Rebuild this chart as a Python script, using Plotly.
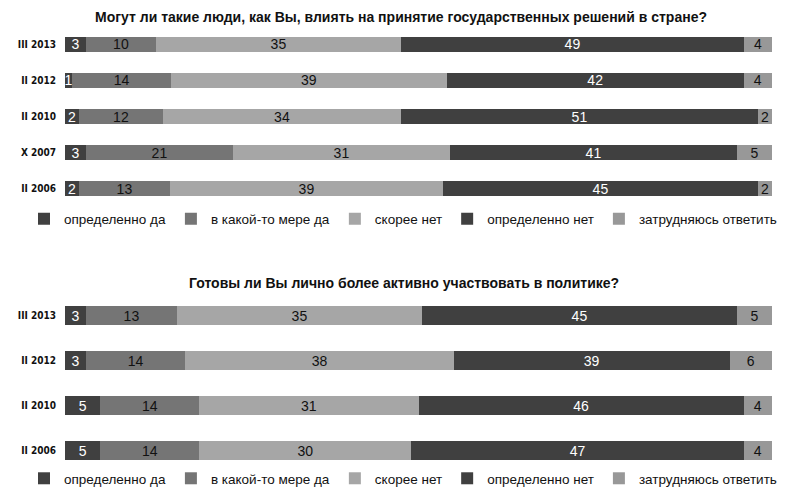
import plotly.graph_objects as go

series = ["определенно да", "в какой-то мере да", "скорее нет", "определенно нет", "затрудняюсь ответить"]
colors = ["#404040", "#757575", "#a6a6a6", "#404040", "#989898"]
text_colors = ["white", "#111111", "#111111", "white", "#111111"]

title1 = "Могут ли такие люди, как Вы, влиять на принятие государственных решений в стране?"
cats1 = ["III 2013", "II 2012", "II 2010", "X 2007", "II 2006"]
vals1 = [
    [3, 1, 2, 3, 2],
    [10, 14, 12, 21, 13],
    [35, 39, 34, 31, 39],
    [49, 42, 51, 41, 45],
    [4, 4, 2, 5, 2],
]

title2 = "Готовы ли Вы лично более активно участвовать в политике?"
cats2 = ["III 2013", "II 2012", "II 2010", "II 2006"]
vals2 = [
    [3, 3, 5, 5],
    [13, 14, 14, 14],
    [35, 38, 31, 30],
    [45, 39, 46, 47],
    [5, 6, 4, 4],
]

# page body has an 8px default margin; figure sized to fill the rest of the window
OFF = 8
W, H = 785 - OFF, 494 - OFF

def py(px):
    return 1 - (px - OFF) / H

def pxx(px):
    return (px - OFF) / W

fig = go.Figure()
for i, name in enumerate(series):
    fig.add_trace(go.Bar(
        y=cats1, x=vals1[i], name=name, orientation="h",
        marker=dict(color=colors[i], line=dict(width=0)),
        text=[str(v) for v in vals1[i]], textposition="inside",
        insidetextanchor="middle", textangle=0,
        textfont=dict(color=text_colors[i], size=14, family="Liberation Sans, Arial"),
        xaxis="x", yaxis="y", legend="legend", hoverinfo="skip",
    ))
for i, name in enumerate(series):
    fig.add_trace(go.Bar(
        y=cats2, x=vals2[i], name=name, orientation="h",
        marker=dict(color=colors[i], line=dict(width=0)),
        text=[str(v) for v in vals2[i]], textposition="inside",
        insidetextanchor="middle", textangle=0,
        textfont=dict(color=text_colors[i], size=14, family="Liberation Sans, Arial"),
        xaxis="x2", yaxis="y2", legend="legend2", hoverinfo="skip",
    ))

tickfont = dict(family="Liberation Sans Narrow, DejaVu Sans Condensed, Arial", size=10, color="#111111", weight="bold")
legfont = dict(family="Liberation Sans, Arial", size=13.5, color="#111111")

fig.update_layout(
    width=W, height=H,
    margin=dict(l=0, r=0, t=0, b=0),
    paper_bgcolor="white", plot_bgcolor="white",
    barmode="stack", barnorm="percent", bargap=0.59,
    uniformtext=dict(minsize=14, mode="show"),
    showlegend=True,
    xaxis=dict(domain=[pxx(65), pxx(772)], range=[0, 100], visible=False, anchor="y"),
    yaxis=dict(domain=[py(207), py(26)], categoryorder="array", categoryarray=cats1[::-1],
               showgrid=False, zeroline=False, showline=False, ticks="", tickfont=tickfont,
               ticklabelstandoff=8, anchor="x", automargin=False),
    xaxis2=dict(domain=[pxx(65), pxx(772)], range=[0, 100], visible=False, anchor="y2"),
    yaxis2=dict(domain=[py(473), py(293)], categoryorder="array", categoryarray=cats2[::-1],
                showgrid=False, zeroline=False, showline=False, ticks="", tickfont=tickfont,
                ticklabelstandoff=8, anchor="x2", automargin=False),
    legend=dict(orientation="h", x=pxx(403), xanchor="center", y=py(219), yanchor="middle",
                font=legfont, itemwidth=30, traceorder="normal", bgcolor="rgba(0,0,0,0)"),
    legend2=dict(orientation="h", x=pxx(403), xanchor="center", y=0, yanchor="bottom",
                 font=legfont, itemwidth=30, traceorder="normal", bgcolor="rgba(0,0,0,0)"),
    annotations=[
        dict(text="<b>" + title1 + "</b>", x=pxx(401), y=py(17), xref="paper", yref="paper",
             showarrow=False, xanchor="center", yanchor="middle",
             font=dict(family="Liberation Sans, Arial", size=14, color="#111111")),
        dict(text="<b>" + title2 + "</b>", x=pxx(404), y=py(283), xref="paper", yref="paper",
             showarrow=False, xanchor="center", yanchor="middle",
             font=dict(family="Liberation Sans, Arial", size=14, color="#111111")),
    ],
)

fig.write_html("out.html")
